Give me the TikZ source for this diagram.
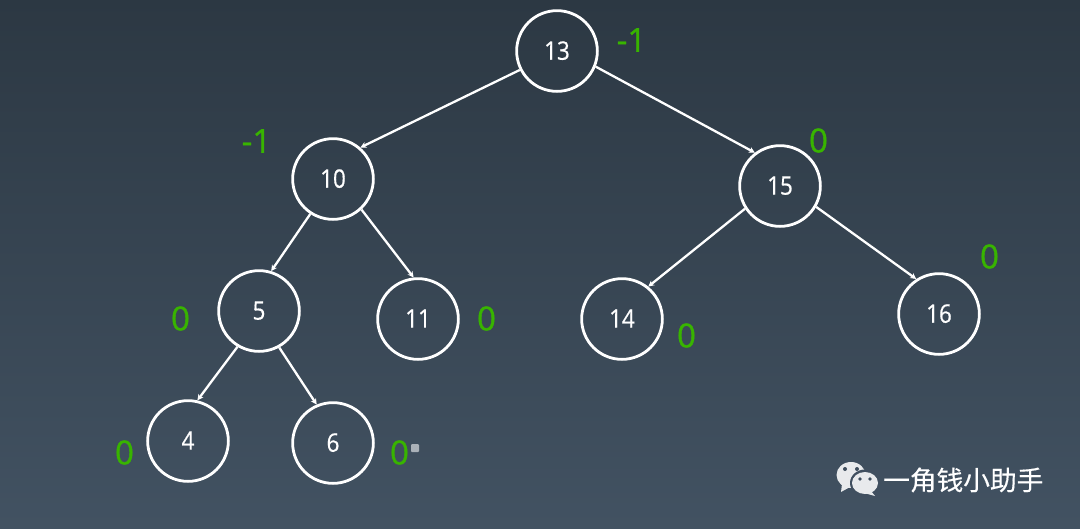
\documentclass[tikz,border=0pt]{standalone}
\usepackage{fontspec}
\setmainfont{Open Sans}
\newfontfamily\nodefont[FakeStretch=0.88,FakeBold=0.5]{Open Sans}
\newfontfamily\bffont[FakeBold=1.0]{Open Sans}
\newfontfamily\cjkfont[FakeBold=0.3]{Noto Sans CJK SC}
\usetikzlibrary{arrows.meta}
\definecolor{bgtop}{HTML}{2C3843}
\definecolor{bgbot}{HTML}{425262}
\definecolor{bfgreen}{HTML}{38B400}
\definecolor{logoc}{HTML}{E8EAEC}
\tikzset{
  treenode/.style={circle,draw=white,line width=2.8pt,minimum size=80.7pt,inner sep=0pt,text=white,font=\nodefont\fontsize{25.5}{25.5}\selectfont},
  edgeline/.style={draw=white,line width=2.3pt,-{Stealth[length=6pt,width=6pt]}},
  bf/.style={text=bfgreen,font=\bffont\fontsize{33}{33}\selectfont,inner sep=0pt},
  logotext/.style={text=white,font=\cjkfont\fontsize{26.7}{26.7}\selectfont,inner sep=0pt},
  bubble/.style={fill=logoc,draw=none},
}
\begin{document}
\begin{tikzpicture}[x=1pt,y=-1pt]
\path[use as bounding box,top color=bgtop,bottom color=bgbot] (0,0) rectangle (1080,528);
\node[treenode] (n13) at (557,51) {\raisebox{1pt}{13}};
\node[treenode] (n10) at (333,179) {\raisebox{1pt}{10}};
\node[treenode] (n15) at (780,186) {\raisebox{1pt}{15}};
\node[treenode] (n5) at (259,311) {\raisebox{1pt}{5}};
\node[treenode] (n11) at (418,319) {\raisebox{1pt}{11}};
\node[treenode] (n14) at (622,319) {\raisebox{1pt}{14}};
\node[treenode] (n16) at (939,314) {\raisebox{1pt}{16}};
\node[treenode] (n4) at (188,441) {\raisebox{1pt}{4}};
\node[treenode] (n6) at (333,443) {\raisebox{1pt}{6}};
\draw[edgeline] (n13.207) -- (n10.49);
\draw[edgeline] (n13.-22.6) -- (n15.127);
\draw[edgeline] (n10.237) -- (n5.73);
\draw[edgeline] (n10.-47) -- (n11.96);
\draw[edgeline] (n15.213) -- (n14.51);
\draw[edgeline] (n15.-30) -- (n16.123);
\draw[edgeline] (n5.239) -- (n4.77);
\draw[edgeline] (n5.-61) -- (n6.113);
\node[bf] (b13) at (631.5,40) {-1};
\node[bf] (b10) at (256.5,141) {-1};
\node[bf] (b15) at (818.5,140.5) {0};
\node[bf] (b16) at (989.5,256.5) {0};
\node[bf] (b5) at (180.5,318.5) {0};
\node[bf] (b11) at (486.5,318.5) {0};
\node[bf] (b14) at (686.5,335.5) {0};
\node[bf] (b4) at (124.5,452.5) {0};
\node[bf] (b6) at (399.5,452.5) {0};
\node[fill=white!55!bgbot,rounded corners=1pt,minimum size=8pt,inner sep=0pt] (mark) at (415,448) {};
% logo
\fill[bubble] (851,475) ellipse (14.5pt and 13pt);
\fill[bubble] (842,484) -- (841,492) -- (850,487) -- cycle;
\fill[bgbot!90!bgtop] (865,483) ellipse (15pt and 13.5pt);
\fill[bubble] (865,483) ellipse (13pt and 11pt);
\fill[bubble] (871,491) -- (875,496) -- (864,493) -- cycle;
\fill[bgbot!85!bgtop] (845,469) circle (2pt) (857,469) circle (2pt) (860,479) circle (1.8pt) (870,479) circle (1.8pt);
\node[logotext,anchor=west] (logo) at (883,480) {一角钱小助手};
\end{tikzpicture}
\end{document}
